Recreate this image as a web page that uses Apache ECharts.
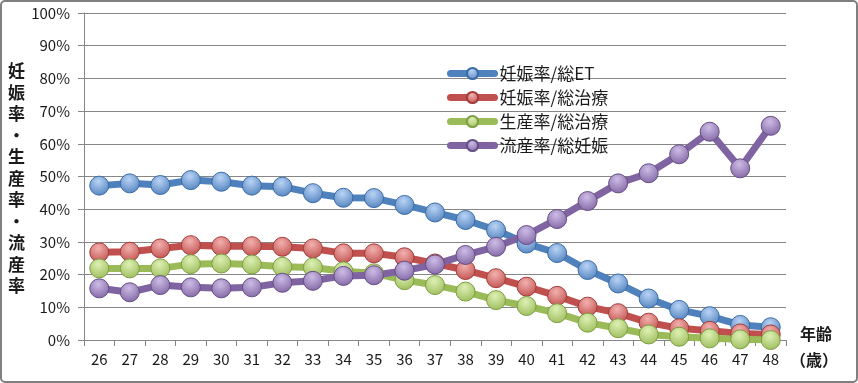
<!DOCTYPE html>
<html><head><meta charset="utf-8">
<script src="https://cdn.jsdelivr.net/npm/echarts@6/dist/echarts.min.js"></script>
<style>html,body{margin:0;padding:0;background:#fff}#c{width:858px;height:383px}</style>
</head><body><div id="c"></div>
<script>
const ages = ['26','27','28','29','30','31','32','33','34','35','36','37','38','39','40','41','42','43','44','45','46','47','48'];
const pregPerET = [47.2,47.9,47.4,48.9,48.4,47.2,46.9,44.9,43.5,43.4,41.3,39.0,36.7,33.6,29.5,26.6,21.4,17.3,12.7,9.2,7.3,4.6,3.9];
const pregPerTreat = [26.8,27.0,28.0,29.0,28.7,28.7,28.5,28.0,26.5,26.5,25.3,23.4,21.4,18.9,16.3,13.5,10.2,8.2,5.3,3.6,2.8,2.0,1.7];
const birthPerTreat = [21.9,21.9,21.9,23.2,23.4,23.1,22.4,22.2,21.0,20.4,18.3,16.8,14.8,12.2,10.4,8.2,5.3,3.6,1.7,1.0,0.5,0.2,0.0];
const miscPerPreg = [15.8,14.6,16.8,16.1,15.8,16.1,17.5,18.1,19.6,19.8,21.2,23.1,26.0,28.5,32.1,37.0,42.5,47.9,51.0,56.8,63.7,52.5,65.5];
const seriesNames = ['妊娠率/総ET','妊娠率/総治療','生産率/総治療','流産率/総妊娠'];
const yTicks = [0,10,20,30,40,50,60,70,80,90,100];

const colors = ['#4F81BD','#C0504D','#9BBB59','#8064A2'];
const light = ['#B9D3F5','#F2B1AF','#DDF0B4','#CDBCE6'];
const dark = ['#3A6BA6','#A33C39','#7E9E42','#654E85'];
const font = '"Noto Sans CJK JP", "Liberation Sans", sans-serif';
const datas = [pregPerET, pregPerTreat, birthPerTreat, miscPerPreg];

const chart = echarts.init(document.getElementById('c'));
chart.setOption({
  animation: false,
  backgroundColor: '#fff',
  grid: {left: 84, top: 13, right: 72, bottom: 43},
  legend: {
    orient: 'vertical', left: 442, top: 60, itemWidth: 44, itemHeight: 14, itemGap: 7,
    textStyle: {fontFamily: font, fontSize: 17, color: '#1a1a1a'},
    lineStyle: {width: 7, cap: 'round'},
    data: seriesNames
  },
  xAxis: {
    type: 'category', data: ages, boundaryGap: true,
    axisLine: {lineStyle: {color: '#868686', width: 1}},
    axisTick: {show: true, length: 6, lineStyle: {color: '#868686'}},
    axisLabel: {fontFamily: font, fontSize: 15, color: '#1a1a1a', margin: 12}
  },
  yAxis: {
    type: 'value', min: 0, max: 100, interval: 10,
    axisLine: {show: true, lineStyle: {color: '#868686', width: 1}},
    axisTick: {show: true, length: 6, lineStyle: {color: '#868686'}},
    splitLine: {lineStyle: {color: '#868686', width: 1}},
    axisLabel: {fontFamily: font, fontSize: 15, color: '#1a1a1a', margin: 14,
      formatter: v => yTicks.includes(v) ? v + '%' : ''}
  },
  graphic: [
    {type: 'rect', shape: {x: 1, y: 1, width: 856, height: 381, r: 4}, style: {fill: 'none', stroke: '#7f7f7f', lineWidth: 2}, silent: true},
    {type: 'text', left: 8, top: 60, style: {text: '妊\n娠\n率\n・\n生\n産\n率\n・\n流\n産\n率', font: 'bold 17px ' + font, fill: '#1a1a1a', lineHeight: 21.5}},
    {type: 'text', left: 800, top: 326, style: {text: '年齢', font: 'bold 16px ' + font, fill: '#1a1a1a'}},
    {type: 'text', left: 790, top: 352, style: {text: '（歳）', font: 'bold 16px ' + font, fill: '#1a1a1a'}}
  ],
  series: datas.map((d, i) => ({
    name: seriesNames[i], type: 'line', data: d,
    symbol: 'circle', symbolSize: 19,
    lineStyle: {color: colors[i], width: 7},
    itemStyle: {
      color: {type: 'radial', x: 0.45, y: 0.3, r: 0.75, colorStops: [{offset: 0, color: light[i]}, {offset: 1, color: colors[i]}]},
      borderColor: dark[i], borderWidth: 1
    }
  }))
});
</script></body></html>
